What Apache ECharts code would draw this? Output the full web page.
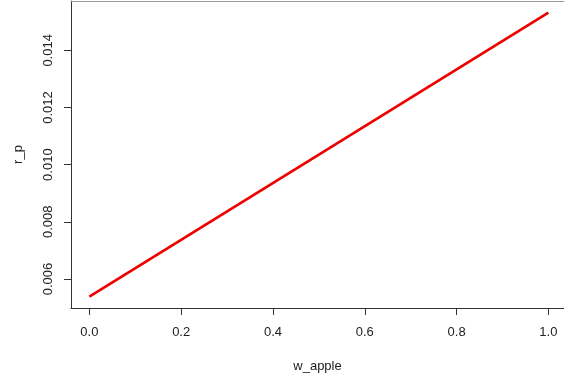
<!DOCTYPE html>
<html><head><meta charset="utf-8">
<script src="https://cdn.jsdelivr.net/npm/echarts@6/dist/echarts.min.js"></script>
<style>html,body{margin:0;padding:0;background:#fff}#c{width:564px;height:383px}</style>
</head><body><div id="c"></div>
<script>
const wApple = [0.0, 1.0];
const rP = [0.00538, 0.01532];
const xTicks = [0.0, 0.2, 0.4, 0.6, 0.8, 1.0];
const yTicks = [0.006, 0.008, 0.010, 0.012, 0.014];

const chart = echarts.init(document.getElementById('c'), null, {renderer: 'canvas'});
const font = 'Liberation Sans, Arial, sans-serif';
chart.setOption({
  animation: false,
  grid: {left: 71, top: 1, right: 0, bottom: 75, show: false, containLabel: false},
  xAxis: [{
    type: 'value', min: -0.04, max: 1.034,
    name: 'w_apple', nameLocation: 'middle', nameGap: 52,
    nameTextStyle: {fontFamily: font, fontSize: 13, color: '#222'},
    axisLine: {show: true, onZero: false, lineStyle: {color: '#333'}},
    axisTick: {show: true, length: 7, lineStyle: {color: '#333'}, customValues: xTicks},
    axisLabel: {fontFamily: font, fontSize: 13, color: '#222', margin: 18, customValues: xTicks,
      formatter: v => v.toFixed(1)},
    splitLine: {show: false}
  }, {
    type: 'value', min: -0.04, max: 1.034, position: 'top',
    axisLine: {show: true, onZero: false, lineStyle: {color: '#999'}},
    axisTick: {show: false}, axisLabel: {show: false}, splitLine: {show: false}
  }],
  yAxis: {
    type: 'value', min: 0.004984, max: 0.015727,
    name: 'r_p', nameLocation: 'middle', nameGap: 46,
    nameTextStyle: {fontFamily: font, fontSize: 13, color: '#222'},
    axisLine: {show: true, onZero: false, lineStyle: {color: '#333'}},
    axisTick: {show: true, length: 7, lineStyle: {color: '#333'}, customValues: yTicks},
    axisLabel: {fontFamily: font, fontSize: 13, color: '#222', rotate: 90, margin: 16, customValues: yTicks,
      formatter: v => v.toFixed(3)},
    splitLine: {show: false}
  },
  series: [{
    type: 'line',
    data: wApple.map((x, i) => [x, rP[i]]),
    showSymbol: false,
    lineStyle: {color: '#ee0000', width: 2.7},
    clip: false
  }]
});
</script></body></html>
